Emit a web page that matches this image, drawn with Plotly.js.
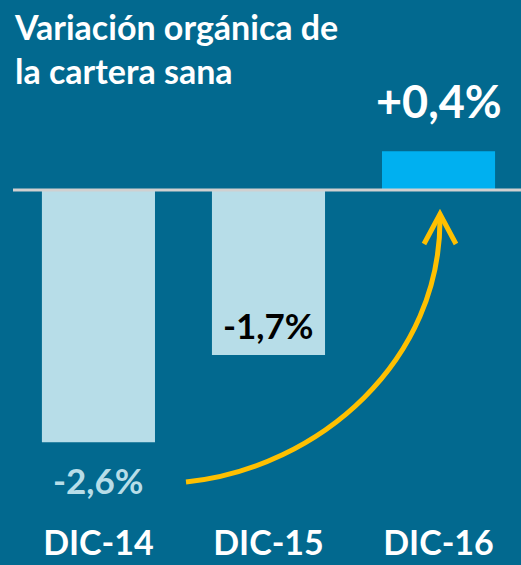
<!DOCTYPE html>
<html>
<head>
<meta charset="utf-8">
<script src="https://cdn.plot.ly/plotly-3.0.1.min.js"></script>
<style>html,body{margin:0;padding:0;background:#02698F;}#chart{width:521px;height:565px;}</style>
</head>
<body>
<div id="chart"></div>
<script>
var categories = ['DIC-14', 'DIC-15', 'DIC-16'];
var values = [-2.6, -1.7, 0.4];
var valueLabels = ['-2,6%', '-1,7%', '+0,4%'];
var titleText = 'Variación orgánica de<br>la cartera sana';

var W = 521, H = 565, mB = 45, plotH = H - mB;
function px(x){ return x / W; }
function py(y){ return (plotH - y) / plotH; }
function P(x, y){ return px(x).toFixed(4) + ',' + py(y).toFixed(4); }

var barColors = ['#B7DDE8', '#B7DDE8', '#00B0F0'];
var FONT = 'Lato, "Open Sans", sans-serif';

var trace = {
  type: 'bar',
  x: categories,
  y: values,
  width: 0.665,
  marker: {color: barColors, line: {width: 0}},
  hoverinfo: 'skip'
};

var annStyles = [
  {color: '#B7DDE8', size: 35, yshift: -38},
  {color: '#000000', size: 35, yshift: 30},
  {color: '#FFFFFF', size: 45, yshift: 50}
];
var annotations = categories.map(function(c, i){
  return {
    x: c, y: values[i], xref: 'x', yref: 'y',
    text: valueLabels[i], showarrow: false,
    yanchor: 'middle', xanchor: 'center', yshift: annStyles[i].yshift,
    font: {family: FONT, size: annStyles[i].size, color: annStyles[i].color, weight: 700}
  };
});

var curve = 'M ' + P(186, 482) + ' C ' + P(320, 468) + ' ' + P(442, 360) + ' ' + P(440, 216);
var head = 'M ' + P(424, 244) + ' L ' + P(440, 214) + ' L ' + P(456, 244);

var layout = {
  width: W, height: H,
  margin: {l: 0, r: 0, t: 0, b: mB, pad: 0},
  paper_bgcolor: '#02698F',
  plot_bgcolor: '#02698F',
  showlegend: false,
  title: {
    text: titleText,
    x: 15 / W, xanchor: 'left', xref: 'paper',
    y: 1 - 40 / H, yanchor: 'middle', yref: 'container',
    font: {family: FONT, size: 34, color: '#FFFFFF', weight: 700}
  },
  xaxis: {
    type: 'category',
    range: [-0.579, 2.485],
    showgrid: false, zeroline: false, showline: false,
    ticks: '', ticklabelstandoff: 0,
    tickfont: {family: FONT, size: 34, color: '#FFFFFF', weight: 700},
    fixedrange: true
  },
  yaxis: {
    range: [-(plotH - 190) / 97, 190 / 97],
    showgrid: false, zeroline: false, showline: false,
    showticklabels: false, ticks: '',
    fixedrange: true
  },
  shapes: [
    {type: 'line', xref: 'paper', yref: 'y', x0: 13 / W, x1: 1, y0: 0, y1: 0,
     line: {color: '#D0D0D0', width: 3}, layer: 'above'},
    {type: 'path', xref: 'paper', yref: 'paper', path: curve,
     line: {color: '#FFC000', width: 5}},
    {type: 'path', xref: 'paper', yref: 'paper', path: head,
     line: {color: '#FFC000', width: 5}}
  ],
  annotations: annotations
};

Plotly.newPlot('chart', [trace], layout, {displayModeBar: false, staticPlot: true});
</script>
</body>
</html>
